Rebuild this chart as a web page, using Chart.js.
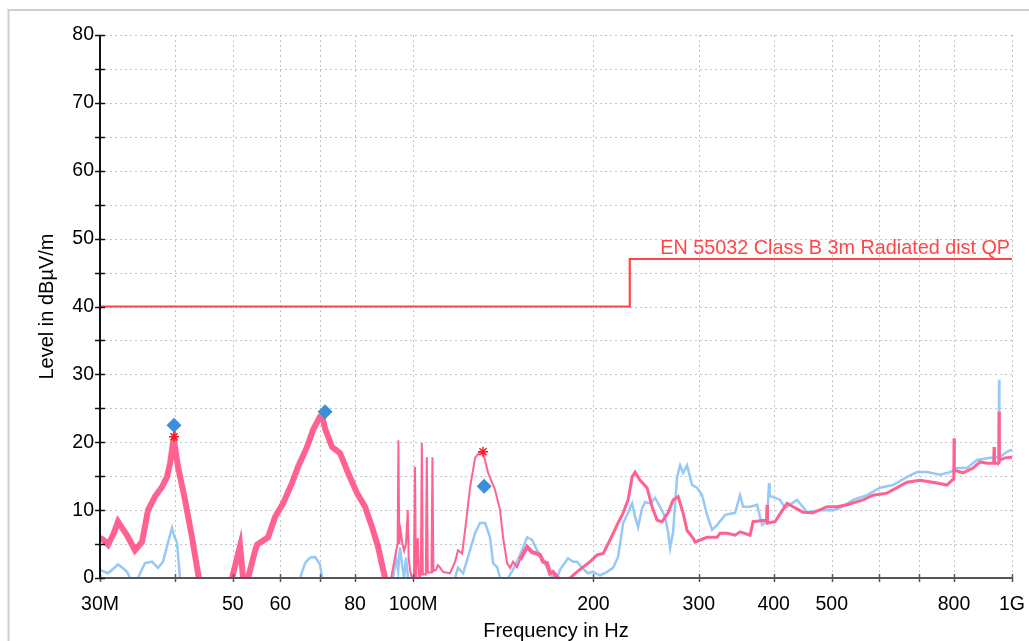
<!DOCTYPE html>
<html><head><meta charset="utf-8">
<script src="https://cdn.jsdelivr.net/npm/chart.js@4.4.1/dist/chart.umd.min.js"></script>
<style>html,body{margin:0;padding:0;background:#fff;overflow:hidden}#wrap{position:relative;width:1029px;height:641px}canvas{display:block}</style>
</head><body><div id="wrap"><canvas id="c" width="1029" height="641" style="width:1029px;height:641px"></canvas></div>
<script>
// ---- data (frequency in MHz, level in dBµV/m) ----
const pinkFreq = [
 30.0, 30.4, 30.94, 31.6, 32.15, 32.7, 33.28, 33.8, 34.32, 35.26,
 36.08, 37.06, 38.07, 38.81, 39.3, 39.72, 39.87, 40.0, 40.49, 41.6,
 42.73, 43.73, 44.5, 49.5, 49.85, 51.41, 52.0, 52.4, 53.0, 54.46,
 54.88, 57.25, 58.81, 60.65, 62.78, 64.25, 66.5, 68.05, 69.91, 70.45,
 71.27, 73.21, 75.5, 77.86, 80.6, 83.12, 85.39, 87.38, 89.77, 91.0,
 92.57, 93.65, 94.2, 94.5, 94.8, 95.3, 96.0, 96.6, 97.3, 97.95,
 98.3, 98.9, 99.5, 100.3, 100.7, 101.1, 101.8, 102.3, 103.0, 103.4,
 103.8, 105.0, 105.4, 105.8, 107.3, 107.7, 108.1, 109.2, 110.0, 111.0,
 112.2, 115.2, 117.5, 118.8, 120.7, 122.1, 124.5, 126.9, 129.3, 130.8,
 133.4, 137.0, 139.7, 141.3, 143.5, 145.2, 146.8, 149.1, 150.8, 155.0,
 158.0, 161.0, 162.9, 164.8, 167.3, 169.3, 171.2, 174.6, 176, 181,
 182.8, 187.8, 192.2, 197.4, 202.8, 207.6, 213.2, 219.0, 224.2, 228.5,
 232.1, 234.8, 239.3, 245.8, 250.6, 255.5, 260.4, 266.5, 271.7, 277.0,
 282.3, 286.7, 293.4, 295.6, 301.4, 309.6, 321.7, 325.5, 334.4, 344.8,
 351.5, 365.3, 369.5, 387.0, 389.2, 389.9, 390.6, 402.1, 421.1, 430.9,
 447.8, 465.4, 491.1, 510.3, 530.3, 564.0, 586.1, 618.4, 667.9, 702.1,
 749.6, 779.0, 794.2, 799.5, 800.3, 801.2, 828.5, 861.0, 884.5, 908.6,
 932.0, 933.4, 934.8, 944.2, 950.6, 951.5, 952.4, 955.2, 973.7, 1000
];
const pinkLevel = [
 5.9, 5.6, 4.9, 6.5, 8.3, 7.3, 6.3, 5.2, 4.1, 5.3,
 10.0, 12.0, 13.4, 14.9, 17.0, 19.9, 20.4, 19.5, 16.4, 11.5,
 6.0, 0.7, -3, -3, 0, 4.7, 0, -1, 0, 4.0,
 4.9, 6.0, 9.0, 11.0, 14.0, 16.4, 19.3, 21.8, 23.8, 24.0,
 22.0, 19.3, 18.4, 15.5, 12.5, 10.5, 7.5, 4.6, 0, -2,
 1.5, 4, 5, 20.3, 5, 7, 5, 4, 5, 10,
 3, 1, 0, 0, 16.4, 0, 5.9, 0, 0.5, 19.9,
 0.5, 0.5, 17.8, 0.8, 0.8, 17.8, 1, 1.2, 1.9, 1.5,
 0.9, 0.7, 2.4, 4.1, 3.6, 7.0, 13.4, 17.7, 18.6, 18.6,
 15.5, 13.0, 10.0, 6.0, 2.2, 1.5, 2.4, 1.6, 2.7, 4.6,
 3.8, 3.6, 3.4, 2.4, 2.2, 0.7, 0.9, 0, -2, -2,
 0, 0.9, 1.6, 2.4, 3.4, 3.6, 5.6, 7.8, 9.6, 11.5,
 14.9, 15.6, 14.4, 13.3, 10.5, 8.5, 8.3, 9.6, 11.5, 12.0,
 9.6, 7.0, 5.9, 5.3, 5.6, 6.0, 6.0, 6.6, 6.6, 6.3,
 6.8, 6.3, 8.3, 8.5, 8.3, 10.8, 8.1, 8.3, 11.0, 10.5,
 9.7, 9.6, 10.5, 10.5, 10.8, 11.5, 12.2, 12.5, 14.1, 14.4,
 14.0, 13.7, 14.4, 14.6, 20.6, 15.9, 15.5, 16.2, 17.1, 16.9,
 16.9, 19.3, 16.9, 16.9, 17.0, 24.5, 17.2, 17.4, 17.7, 17.8
];
const blueFreq = [
 30.0, 30.94, 31.6, 32.15, 32.7, 33.28, 33.67, 34.0, 34.72, 35.66,
 36.64, 37.49, 38.22, 38.96, 39.57, 39.8, 40.34, 40.8, 41.2, 64.3,
 64.73, 65.99, 67.27, 68.58, 69.91, 70.45, 71.0, 92.0, 92.57, 93.65,
 94.4, 95.09, 95.83, 96.57, 97.31, 98.06, 98.5, 117.0, 117.5, 118.8,
 121.2, 123.5, 126.9, 129.3, 131.9, 134.4, 136.0, 138.1, 139.7, 140.5,
 143.5, 144.0, 146.8, 150.8, 155.0, 158.0, 161.0, 164.8, 168.0, 169.3,
 173.9, 175.9, 181.4, 184.9, 187.8, 191.5, 195.9, 199.7, 205.2, 210.8,
 215.7, 219.9, 224.2, 228.5, 232.1, 234.8, 237.5, 241.2, 244.0, 248.7,
 253.5, 258.4, 263.5, 266.5, 268.6, 271.7, 275.9, 279.1, 282.3, 286.7,
 292.3, 297.9, 303.7, 309.6, 315.6, 321.7, 331.8, 344.8, 351.5, 355.6,
 365.3, 375.2, 382.5, 389.9, 392.9, 393.8, 397.5, 409.9, 417.9, 437.6,
 454.7, 478.0, 502.5, 516.2, 542.7, 572.7, 602.0, 632.8, 667.9, 694.1,
 721.3, 758.3, 788.1, 809.6, 841.3, 874.3, 919.1, 944.2, 950.5, 951.5,
 952.5, 981.3, 1000
];
const blueLevel = [
 1.2, 0.7, 1.4, 2.0, 1.5, 0.9, 0, -1.5, 0, 2.2,
 2.4, 1.5, 2.4, 5.2, 7.4, 6.5, 5.2, 0, -3, -3,
 0, 2.2, 3.0, 3.1, 2.0, 0, -3, -3, 0, 3,
 1, 4.5, 2, 0, 3, 0, -3, -3, 0, 1.5,
 0.7, 3.1, 6.6, 8.1, 8.1, 6.0, 2.2, 1.6, 0, -3,
 -3, 0, 1.2, 3.4, 6.0, 5.6, 4.1, 2.7, 1.2, 0.4,
 0, 1.2, 2.9, 2.4, 2.4, 1.5, 0.7, 0.9, 0.4, 0.9,
 1.5, 3.1, 8.1, 9.6, 11.0, 9.0, 7.5, 10.3, 11.2, 11.0,
 11.8, 10.5, 9.0, 6.8, 4.4, 6.8, 14.9, 16.6, 15.5, 16.6,
 13.7, 13.3, 12.2, 9.3, 7.1, 7.8, 9.3, 9.6, 12.2, 10.5,
 10.5, 10.8, 7.8, 8.3, 14.0, 12.0, 12.0, 11.5, 10.3, 11.5,
 9.7, 10.0, 10.0, 10.3, 11.5, 12.2, 13.3, 13.7, 14.9, 15.6,
 15.6, 15.2, 15.6, 16.2, 16.2, 17.4, 17.7, 17.8, 17.8, 29.2,
 17.8, 18.6, 18.9
];
const limitFreq = [30, 230, 230, 1000];
const limitLevel = [40, 40, 47, 47];
const limitLabel = 'EN 55032 Class B 3m Radiated dist QP';
const diamondFreq = [39.87, 71.27, 131.4];
const diamondLevel = [22.5, 24.5, 13.5];
const starFreq = [39.87, 130.8];
const starLevel = [20.8, 18.6];
const xTickValues = [30, 40, 50, 60, 70, 80, 100, 200, 300, 400, 500, 600, 700, 800, 1000];
const xTickLabels = {30: '30M', 50: '50', 60: '60', 80: '80', 100: '100M', 200: '200', 300: '300', 400: '400', 500: '500', 800: '800', 1000: '1G'};
const yMin = 0, yMax = 80, yStep = 5, yLabelStep = 10;

const pts = (xs, ys) => xs.map((x, i) => ({x: x, y: ys[i]}));
const FONT = '"Liberation Sans", Arial, sans-serif';

const decor = {
  id: 'decor',
  beforeDraw(chart) {
    const ctx = chart.ctx;
    ctx.save();
    ctx.strokeStyle = '#cfcfcf';
    ctx.lineWidth = 2;
    ctx.beginPath();
    ctx.moveTo(8.5, 641); ctx.lineTo(8.5, 10); ctx.lineTo(1029, 10);
    ctx.stroke();
    ctx.restore();
  },
  beforeDatasetsDraw(chart) {
    const {ctx, chartArea: a, scales: {x, y}} = chart;
    ctx.save();
    ctx.strokeStyle = '#c4c4c4';
    ctx.lineWidth = 1;
    ctx.setLineDash([2, 3]);
    y.ticks.forEach(t => {
      if (t.value === yMin) return;
      const py = Math.round(y.getPixelForValue(t.value)) + 0.5;
      ctx.beginPath(); ctx.moveTo(a.left, py); ctx.lineTo(a.right, py); ctx.stroke();
    });
    x.ticks.forEach(t => {
      if (t.value === xTickValues[0]) return;
      const px = Math.round(x.getPixelForValue(t.value)) + 0.5;
      ctx.beginPath(); ctx.moveTo(px, a.top); ctx.lineTo(px, a.bottom); ctx.stroke();
    });
    ctx.restore();
  },
  afterDatasetsDraw(chart) {
    const {ctx, chartArea: a, scales: {x, y}} = chart;
    ctx.save();
    ctx.strokeStyle = '#555';
    ctx.lineWidth = 2;
    ctx.beginPath(); ctx.moveTo(a.left, a.bottom); ctx.lineTo(a.right, a.bottom); ctx.stroke();
    ctx.lineWidth = 1.5;
    x.ticks.forEach(t => {
      const px = Math.round(x.getPixelForValue(t.value)) + 0.5;
      ctx.beginPath(); ctx.moveTo(px, a.bottom - 4); ctx.lineTo(px, a.bottom + 4); ctx.stroke();
    });
    ctx.strokeStyle = '#111';
    ctx.lineWidth = 2;
    ctx.beginPath(); ctx.moveTo(a.left, a.top); ctx.lineTo(a.left, a.bottom); ctx.stroke();
    ctx.lineWidth = 1.5;
    y.ticks.forEach(t => {
      const py = Math.round(y.getPixelForValue(t.value)) + 0.5;
      ctx.beginPath(); ctx.moveTo(a.left - 5, py); ctx.lineTo(a.left + 5, py); ctx.stroke();
    });
    ctx.fillStyle = '#ff4545';
    ctx.font = '19.8px ' + FONT;
    ctx.textAlign = 'right';
    ctx.textBaseline = 'alphabetic';
    ctx.fillText(limitLabel, x.getPixelForValue(limitFreq[limitFreq.length - 1]) - 2, y.getPixelForValue(limitLevel[limitLevel.length - 1]) - 5);
    ctx.restore();
  }
};

const pinkWidth = ctx => {
  const f = ctx.p0.parsed.x;
  if (f < 90) return 6;
  if (f < 150) return 2;
  if (f < 175) return 4;
  return 3;
};

new Chart(document.getElementById('c'), {
  type: 'line',
  data: {
    datasets: [
      {label: 'stars', data: pts(starFreq, starLevel), showLine: false, pointStyle: 'star', pointRadius: 5, borderColor: '#ff1a1a', backgroundColor: '#ff1a1a', pointBorderWidth: 1.5},
      {label: 'diamonds', data: pts(diamondFreq, diamondLevel), showLine: false, pointStyle: 'rectRot', pointRadius: 7.5, backgroundColor: '#3a8fd8', borderColor: '#3a8fd8', pointBorderWidth: 0},
      {label: 'limit', data: pts(limitFreq, limitLevel), borderColor: '#ff4545', borderWidth: 2.2, pointRadius: 0, tension: 0},
      {label: 'pk', data: pts(pinkFreq, pinkLevel), borderColor: '#ff6190', borderWidth: 3, pointRadius: 0, tension: 0, clip: 0,
        segment: {borderWidth: pinkWidth}},
      {label: 'avg', data: pts(blueFreq, blueLevel), borderColor: '#96c8f8', borderWidth: 2.5, pointRadius: 0, tension: 0, clip: 0}
    ]
  },
  options: {
    responsive: false,
    animation: false,
    devicePixelRatio: 1,
    layout: {padding: {left: 0, right: 17, top: 35, bottom: 0}},
    plugins: {legend: {display: false}, tooltip: {enabled: false}},
    scales: {
      x: {
        type: 'logarithmic', min: 30, max: 1000,
        afterBuildTicks: s => { s.ticks = xTickValues.map(v => ({value: v})); },
        afterFit: s => { s.height = 63; s.paddingLeft = 0; s.paddingRight = 0; },
        grid: {display: false, drawTicks: false},
        border: {display: false},
        ticks: {autoSkip: false, maxRotation: 0, padding: 15, color: '#000', font: {family: FONT, size: 19.5},
          callback: v => xTickLabels[v] || ''},
        title: {display: true, text: 'Frequency in Hz', color: '#000', font: {family: FONT, size: 20}, padding: {top: 0, bottom: -2}}
      },
      y: {
        type: 'linear', min: yMin, max: yMax,
        afterFit: s => { s.width = 100; s.paddingTop = 0; s.paddingBottom = 0; },
        grid: {display: false, drawTicks: false},
        border: {display: false},
        ticks: {stepSize: yStep, padding: 6, color: '#000', font: {family: FONT, size: 19.5},
          callback: v => (v % yLabelStep === 0 ? String(v) : '')},
        title: {display: true, text: 'Level in dBµV/m', color: '#000', font: {family: FONT, size: 20}, padding: {top: 35, bottom: 0}}
      }
    }
  },
  plugins: [decor]
});
</script></body></html>
